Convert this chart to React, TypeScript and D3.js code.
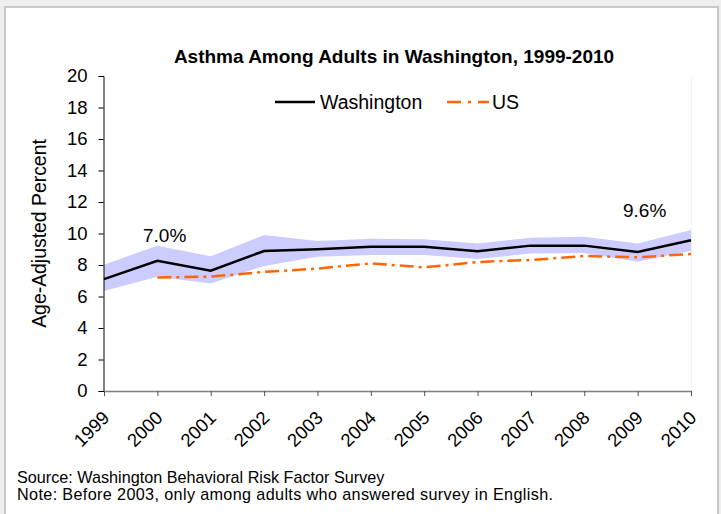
import React, { useEffect, useRef } from "react";
import * as d3 from "d3";

const years = ["1999", "2000", "2001", "2002", "2003", "2004", "2005", "2006", "2007", "2008", "2009", "2010"];
const waValues = [7.1, 8.27, 7.64, 8.89, 9.0, 9.16, 9.16, 8.87, 9.23, 9.23, 8.83, 9.57];
const waUpper = [8.02, 9.23, 8.55, 9.9, 9.52, 9.67, 9.63, 9.37, 9.73, 9.8, 9.37, 10.22];
const waLower = [6.35, 7.26, 6.83, 7.94, 8.53, 8.63, 8.63, 8.38, 8.73, 8.76, 8.2, 8.9];
// US series starts in 2000
const usValues = [null, 7.2, 7.26, 7.56, 7.77, 8.1, 7.85, 8.19, 8.32, 8.57, 8.49, 8.7];
const yTicks = [0, 2, 4, 6, 8, 10, 12, 14, 16, 18, 20];

const FONT = "Arial, 'Liberation Sans', sans-serif";

export default function App() {
  const svgRef = useRef<SVGSVGElement | null>(null);

  useEffect(() => {
    if (!svgRef.current) return;
    const svg = d3.select(svgRef.current);
    svg.selectAll("*").remove();

    const width = 721;
    const height = 514;

    // page frame
    svg.append("rect").attr("width", width).attr("height", height).attr("fill", "#efefef");
    svg
      .append("rect")
      .attr("x", 5)
      .attr("y", 7)
      .attr("width", 713)
      .attr("height", 520)
      .attr("fill", "#ffffff")
      .attr("stroke", "#c8c8c8")
      .attr("stroke-width", 2);

    const x = d3.scalePoint<string>().domain(years).range([104, 691]);
    const y = d3.scaleLinear().domain([0, 20]).range([391, 76]);

    // confidence band
    const area = d3
      .area<number>()
      .x((_, i) => x(years[i]) as number)
      .y0((_, i) => y(waLower[i]))
      .y1((_, i) => y(waUpper[i]));
    svg.append("path").attr("d", area(waValues)).attr("fill", "#ccccff");

    // plot right edge (faint)
    svg
      .append("line")
      .attr("x1", 691.5)
      .attr("x2", 691.5)
      .attr("y1", 76)
      .attr("y2", 391)
      .attr("stroke", "#f2f2f2");

    // US line
    const usLine = d3
      .line<number | null>()
      .defined((d) => d != null)
      .x((_, i) => x(years[i]) as number)
      .y((d) => y(d as number));
    svg
      .append("path")
      .attr("d", usLine(usValues))
      .attr("fill", "none")
      .attr("stroke", "#ff6600")
      .attr("stroke-width", 2.5)
      .attr("stroke-dasharray", "14,5,3,5");

    // Washington line
    const waLine = d3
      .line<number>()
      .x((_, i) => x(years[i]) as number)
      .y((d) => y(d));
    svg
      .append("path")
      .attr("d", waLine(waValues))
      .attr("fill", "none")
      .attr("stroke", "#000000")
      .attr("stroke-width", 2.5);

    // y axis
    const yAxis = svg
      .append("g")
      .attr("transform", "translate(103.5,0)")
      .call(d3.axisLeft(y).tickValues(yTicks).tickSize(5).tickPadding(11));
    yAxis.select(".domain").attr("stroke", "#000");
    yAxis.selectAll(".tick line").attr("stroke", "#000");
    yAxis
      .selectAll(".tick text")
      .attr("fill", "#000")
      .style("font-family", FONT)
      .style("font-size", "18.5px");

    // x axis
    const xAxis = svg
      .append("g")
      .attr("transform", "translate(0,391)")
      .call(d3.axisBottom(x).tickSize(5).tickSizeOuter(0));
    xAxis.select(".domain").attr("stroke", "#808080").attr("stroke-width", 1.5);
    xAxis.selectAll(".tick line").attr("stroke", "#555");
    xAxis
      .selectAll(".tick text")
      .attr("fill", "#000")
      .attr("text-anchor", "end")
      .attr("dy", 0)
      .attr("y", 0)
      .attr("transform", "translate(6,28) rotate(-45)")
      .style("font-family", FONT)
      .style("font-size", "18.5px");

    // axis title
    svg
      .append("text")
      .attr("transform", `translate(46,${(76 + 391) / 2}) rotate(-90)`)
      .attr("text-anchor", "middle")
      .style("font-family", FONT)
      .style("font-size", "19.4px")
      .text("Age-Adjusted Percent");

    // title
    svg
      .append("text")
      .attr("x", 394)
      .attr("y", 63)
      .attr("text-anchor", "middle")
      .style("font-family", FONT)
      .style("font-size", "19px")
      .style("font-weight", "bold")
      .text("Asthma Among Adults in Washington, 1999-2010");

    // legend
    const legend = svg.append("g").style("font-family", FONT).style("font-size", "19.5px");
    legend.append("line").attr("x1", 275).attr("x2", 315).attr("y1", 102).attr("y2", 102)
      .attr("stroke", "#000").attr("stroke-width", 2.5);
    legend.append("text").attr("x", 320).attr("y", 109).text("Washington");
    legend.append("line").attr("x1", 447).attr("x2", 489).attr("y1", 102).attr("y2", 102)
      .attr("stroke", "#ff6600").attr("stroke-width", 2.5).attr("stroke-dasharray", "14,7,3,7");
    legend.append("text").attr("x", 492).attr("y", 109).text("US");

    // annotations
    const notes = svg.append("g").style("font-family", FONT).style("font-size", "19px");
    notes.append("text").attr("x", 143).attr("y", 242).text("7.0%");
    notes.append("text").attr("x", 623).attr("y", 217).text("9.6%");

    // footer
    const foot = svg.append("g").style("font-family", FONT).style("font-size", "16.2px");
    foot.append("text").attr("x", 17).attr("y", 483).text("Source: Washington Behavioral Risk Factor Survey");
    foot
      .append("text")
      .attr("x", 17)
      .attr("y", 500)
      .attr("textLength", 536)
      .attr("lengthAdjust", "spacing")
      .text("Note: Before 2003, only among adults who answered survey in English.");
  }, []);

  return (
    <div style={{ position: "absolute", left: 0, top: 0 }}>
      <svg ref={svgRef} width={721} height={514} style={{ display: "block" }}></svg>
    </div>
  );
}
